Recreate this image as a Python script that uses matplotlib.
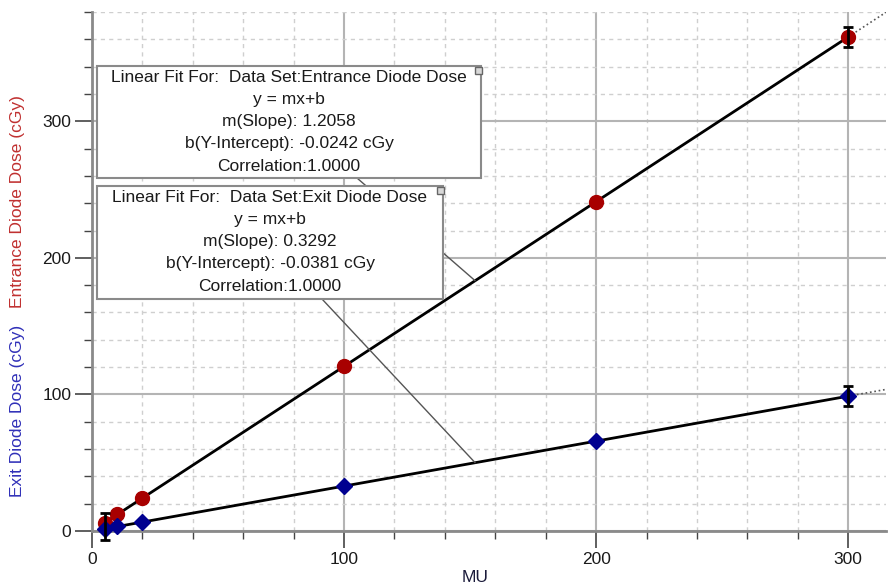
import matplotlib
matplotlib.use("Agg")
import matplotlib.pyplot as plt
import numpy as np
from matplotlib.patches import Rectangle
from matplotlib.ticker import MultipleLocator

plt.rcParams['font.family'] = ['Liberation Sans', 'DejaVu Sans']

# ---- data ----
mu = [5, 10, 20, 100, 200, 300]
entrance_dose = [6.0, 12.1, 24.1, 120.6, 241.2, 361.7]
exit_dose = [1.65, 3.3, 6.6, 32.9, 65.8, 98.7]
entrance_err_x = [300]
entrance_err_y = [361.7]
entrance_err = [7.5]
exit_err_x = [5, 300]
exit_err_y = [1.65, 98.7]
exit_err_low = [8.3, 7.3]
exit_err_high = [11.6, 7.3]
entrance_slope, entrance_icpt = 1.2058, -0.0242
exit_slope, exit_icpt = 0.3292, -0.0381
xticks = [0, 100, 200, 300]
yticks = [0, 100, 200, 300]
entrance_box = ["Linear Fit For:  Data Set:Entrance Diode Dose", "y = mx+b",
                "m(Slope): 1.2058", "b(Y-Intercept): -0.0242 cGy", "Correlation:1.0000"]
exit_box = ["Linear Fit For:  Data Set:Exit Diode Dose", "y = mx+b",
            "m(Slope): 0.3292", "b(Y-Intercept): -0.0381 cGy", "Correlation:1.0000"]

FS = 12.5
W, H = 889, 588
fig = plt.figure(figsize=(W / 100, H / 100), dpi=100)

def fx(px):
    return px / W

def fy(py):
    return 1 - py / H

ax = fig.add_axes([fx(92), fy(531), (886 - 92) / W, (531 - 12) / H])
ax.set_xlim(0, 315)
ax.set_ylim(0, 380)

for s in ['top', 'right']:
    ax.spines[s].set_visible(False)
for s in ['left', 'bottom']:
    ax.spines[s].set_color('#8a8a8a')
    ax.spines[s].set_linewidth(2)
    ax.spines[s].set_zorder(1)

ax.set_xticks(xticks)
ax.set_yticks(yticks)
ax.xaxis.set_minor_locator(MultipleLocator(20))
ax.yaxis.set_minor_locator(MultipleLocator(20))
ax.tick_params(which='major', length=12, width=1.2, color='#444444', labelsize=FS,
               labelcolor='#1a1a1a', pad=3)
ax.tick_params(which='minor', length=6, width=1.0, color='#444444')
ax.grid(which='major', color='#b4b4b4', linewidth=1.5, linestyle='-')
ax.grid(which='minor', color='#cfcfcf', linewidth=1.0, linestyle=(0, (3, 3)))
ax.set_axisbelow(True)

# fit lines
xs = np.array([min(mu), max(mu)])
xe = np.array([max(mu), 315])
ax.plot(xs, entrance_slope * xs + entrance_icpt, color='black', lw=2, zorder=3)
ax.plot(xe, entrance_slope * xe + entrance_icpt, color='#555555', lw=1.2, ls=':', zorder=3)
ax.plot(xs, exit_slope * xs + exit_icpt, color='black', lw=2, zorder=3)
ax.plot(xe, exit_slope * xe + exit_icpt, color='#555555', lw=1.2, ls=':', zorder=3)

# data points
ax.plot(mu, entrance_dose, 'o', color='#a80000', markersize=10, zorder=4, clip_on=False)
ax.plot(mu, exit_dose, 'D', color='#000090', markersize=8, zorder=4, clip_on=False)

# error bars
eb1 = ax.errorbar(entrance_err_x, entrance_err_y, yerr=entrance_err, fmt='none',
                  ecolor='black', elinewidth=2, capsize=3.5, capthick=2, zorder=5)
eb2 = ax.errorbar(exit_err_x, exit_err_y, yerr=[exit_err_low, exit_err_high], fmt='none',
                  ecolor='black', elinewidth=2, capsize=3.5, capthick=2, zorder=5)
for eb in (eb1, eb2):
    for art in eb.lines[1] + eb.lines[2]:
        art.set_clip_on(False)

# axis labels
fig.text(fx(475), fy(578), "MU", ha='center', va='center', fontsize=FS, color='#1a1a3a')
fig.text(fx(18), fy(202), "Entrance Diode Dose (cGy)", rotation=90, ha='center',
         va='center', fontsize=FS, color='#c03030')
fig.text(fx(18), fy(411), "Exit Diode Dose (cGy)", rotation=90, ha='center',
         va='center', fontsize=FS, color='#3030b8')

# annotation boxes
def draw_box(x0, y0, x1, y1, lines, target, start, z):
    ax.annotate("", xy=target, xycoords='data',
                xytext=(fx(start[0]), fy(start[1])), textcoords='figure fraction',
                arrowprops=dict(arrowstyle='-', color='#555555', lw=1.0,
                                shrinkA=0, shrinkB=0), zorder=z)
    rect = Rectangle((fx(x0), fy(y1)), fx(x1) - fx(x0), fy(y0) - fy(y1),
                     transform=fig.transFigure, facecolor='white', edgecolor='#8a8a8a',
                     lw=1.5, zorder=z + 1)
    fig.add_artist(rect)
    sq = Rectangle((fx(x1 - 6), fy(y0 + 8)), fx(7), fy(0) - fy(7),
                   transform=fig.transFigure, facecolor='#d8d8d8', edgecolor='#666666',
                   lw=1.0, zorder=z + 2)
    fig.add_artist(sq)
    cx = (x0 + x1) / 2
    for i, t in enumerate(lines):
        fig.text(fx(cx), fy(y0 + 11 + 22.3 * i), t, ha='center', va='center',
                 fontsize=FS, color='#1a1a1a', zorder=z + 3)

draw_box(97, 66, 481, 178, entrance_box,
         (152, entrance_slope * 152 + entrance_icpt), (357, 178), 10)
draw_box(97, 186, 443, 299, exit_box,
         (152, exit_slope * 152 + exit_icpt), (322, 299), 20)

fig.savefig("out.png", dpi=100)
